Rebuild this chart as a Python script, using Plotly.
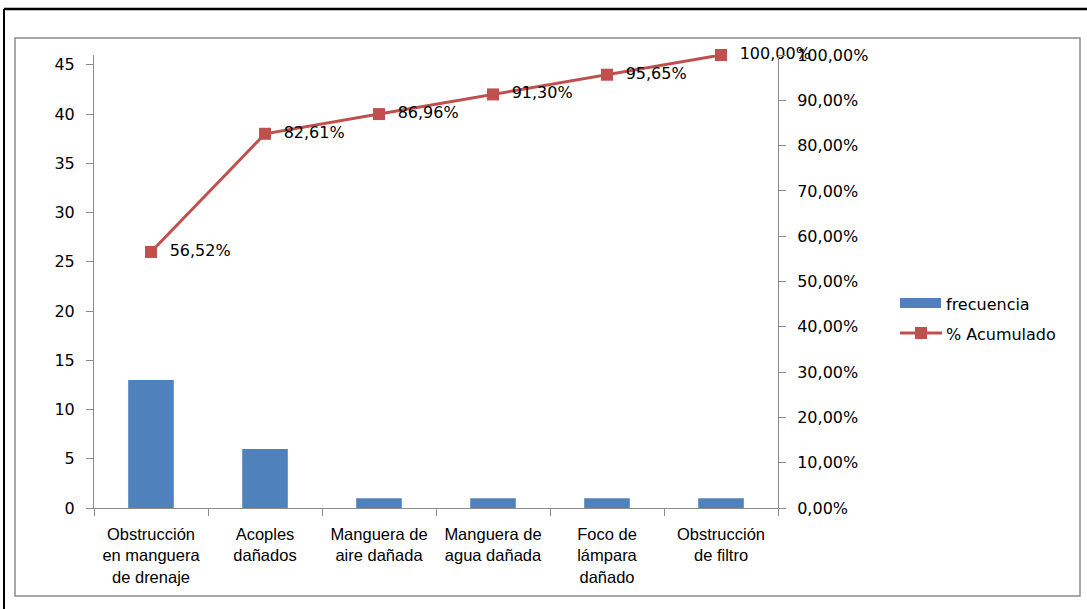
import plotly.graph_objects as go

categorias = ["Obstrucción<br>en manguera<br>de drenaje", "Acoples<br>dañados",
              "Manguera de<br>aire dañada", "Manguera de<br>agua dañada",
              "Foco de<br>lámpara<br>dañado", "Obstrucción<br>de filtro"]
frecuencia = [13, 6, 1, 1, 1, 1]
acumulado = [0.5652, 0.8261, 0.8696, 0.9130, 0.9565, 1.0]
nombres = ["frecuencia", "% Acumulado"]

AZUL, ROJO = "#4F81BD", "#C0504D"
W, H = 1087, 609
L, R, T, B = 94, 778, 55, 508


def px(x):
    return (x - L) / (R - L)


def py(y):
    return (B - y) / (B - T)


fig = go.Figure()
fig.add_trace(go.Bar(x=categorias, y=frecuencia, name=nombres[0],
                     marker=dict(color=AZUL, line=dict(width=0)),
                     width=0.4, yaxis="y", showlegend=False))
fig.add_trace(go.Scatter(x=categorias, y=acumulado, name=nombres[1],
                         mode="lines+markers+text", yaxis="y2",
                         line=dict(color=ROJO, width=3),
                         marker=dict(symbol="square", size=12, color=ROJO),
                         texttemplate="  %{y:.2%}", textposition="middle right",
                         textfont=dict(family="DejaVu Sans", size=16, color="#000"),
                         cliponaxis=False, showlegend=False))

axis_common = dict(showline=True, linecolor="#8c8c8c", linewidth=1,
                   ticks="outside", tickcolor="#8c8c8c", ticklen=7,
                   showgrid=False, zeroline=False)

# hand-built legend: wide bar swatch and line-with-marker swatch
shapes = [
    dict(type="rect", xref="paper", yref="paper",
         x0=px(15), x1=px(1080), y0=py(596), y1=py(38),
         line=dict(color="#8c8c8c", width=1.5), layer="below"),
    dict(type="line", xref="paper", yref="paper",
         x0=px(4), x1=px(1090), y0=py(9), y1=py(9),
         line=dict(color="#000", width=2.5)),
    dict(type="line", xref="paper", yref="paper",
         x0=px(4), x1=px(4), y0=py(9), y1=py(612),
         line=dict(color="#000", width=2)),
    dict(type="rect", xref="paper", yref="paper",
         x0=px(900), x1=px(941), y0=py(308), y1=py(298),
         fillcolor=AZUL, line=dict(width=0)),
    dict(type="line", xref="paper", yref="paper",
         x0=px(900), x1=px(942), y0=py(333), y1=py(333),
         line=dict(color=ROJO, width=3)),
    dict(type="rect", xref="paper", yref="paper",
         x0=px(915), x1=px(927), y0=py(339), y1=py(327),
         fillcolor=ROJO, line=dict(width=0)),
]
annotations = [
    dict(text=nombres[0], xref="paper", yref="paper", x=px(944), y=py(304),
         xanchor="left", yanchor="middle", showarrow=False,
         font=dict(family="DejaVu Sans", size=16, color="#000")),
    dict(text=nombres[1], xref="paper", yref="paper", x=px(944), y=py(334),
         xanchor="left", yanchor="middle", showarrow=False,
         font=dict(family="DejaVu Sans", size=16, color="#000")),
]

fig.update_layout(
    width=W, height=H,
    margin=dict(l=L, r=W - R, t=T, b=H - B),
    paper_bgcolor="white", plot_bgcolor="white",
    separators=",.",
    bargap=0.6,
    font=dict(family="DejaVu Sans", size=16, color="#000"),
    xaxis=dict(**axis_common, tickson="boundaries", ticklabelstandoff=11,
               tickfont=dict(family="Liberation Sans", size=16.5)),
    yaxis=dict(**axis_common, range=[0, 46], tickvals=list(range(0, 50, 5)),
               ticklabelstandoff=8,
               tickfont=dict(family="DejaVu Sans", size=16)),
    yaxis2=dict(**axis_common, overlaying="y", side="right", range=[0, 1],
                tickvals=[i / 10 for i in range(11)], tickformat=".2%",
                ticklabelstandoff=8,
                tickfont=dict(family="DejaVu Sans", size=16)),
    showlegend=False,
    shapes=shapes,
    annotations=annotations,
)

fig.write_html("out.html")
